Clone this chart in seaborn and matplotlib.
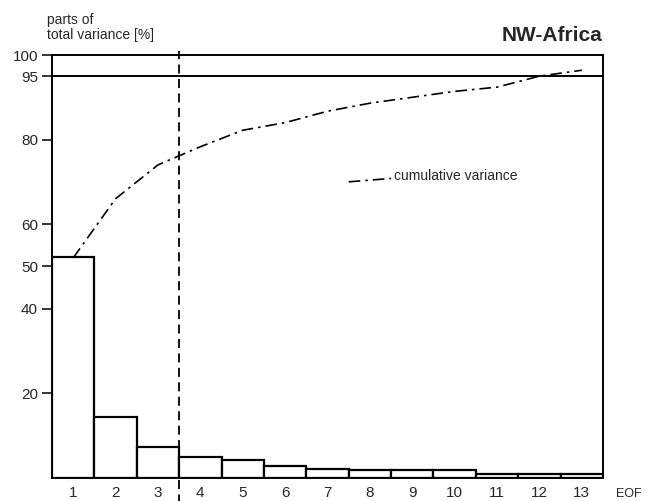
import matplotlib
matplotlib.use('Agg')
import matplotlib.pyplot as plt
import pandas as pd
import numpy as np
import seaborn as sns

# values
eof = [1, 2, 3, 4, 5, 6, 7, 8, 9, 10, 11, 12, 13]
variance = [52.2, 14.3, 7.2, 5.0, 4.1, 2.8, 2.0, 1.9, 1.9, 1.9, 0.8, 0.8, 0.8]
cumulative = [52.0, 66.0, 74.0, 78.3, 82.2, 84.0, 86.7, 88.6, 90.0, 91.4, 92.4, 95.0, 96.4]
yticks = [20, 40, 50, 60, 80, 95, 100]

sns.set_style('white')
plt.rcParams['font.family'] = ['Liberation Sans', 'DejaVu Sans']

df = pd.DataFrame({'eof': eof, 'variance': variance, 'cumulative': cumulative})

fig = plt.figure(figsize=(6.55, 5.01), dpi=100)
ax = fig.add_axes([0.0794, 0.0465, 0.8412, 0.8437])

sns.barplot(data=df, x='eof', y='variance', native_scale=True, width=1,
            color='white', edgecolor='black', linewidth=1.6, ax=ax)
sns.lineplot(data=df, x='eof', y='cumulative', color='black', lw=1.2,
             dashes=False, ax=ax)
ax.lines[-1].set_dashes([7, 3, 1.5, 3])

ax.axhline(95, color='black', lw=1.4)
ax.axvline(3.5, ymin=0, ymax=1.01, color='black', lw=1.3, ls=(0, (5, 3)), clip_on=False)
ax.plot([3.5, 3.5], [-0.5, -5.5], color='black', lw=1.3, ls=(0, (5, 3)), clip_on=False)

ax.set_xlim(0.5, 13.5)
ax.set_ylim(0, 100)
ax.set_yticks(yticks)
ax.set_yticklabels([str(v) for v in yticks], fontsize=11)
ax.set_xticks(eof)
ax.set_xticklabels([str(v) for v in eof], fontsize=11)
ax.tick_params(axis='y', direction='out', length=7, width=1.3, left=True, pad=3)
ax.tick_params(axis='x', length=0, pad=6)
for s in ax.spines.values():
    s.set_color('black')
    s.set_linewidth(1.4)
ax.set_xlabel('')
ax.set_ylabel('')

# legend-like label for the cumulative line
ax.plot([7.5, 8.5], [70.0, 70.8], color='black', lw=1.2, dashes=[7, 3, 1.5, 3])
ax.text(8.57, 71.4, 'cumulative variance', fontsize=10, va='center', ha='left')

fig.text(0.072, 0.975, 'parts of\ntotal variance [%]', fontsize=10, ha='left', va='top',
         linespacing=1.1)
fig.text(0.92, 0.93, 'NW-Africa', fontsize=15, fontweight='bold', ha='right', va='center')
fig.text(0.96, 0.014, 'EOF', fontsize=9, ha='center', va='center')

fig.savefig('out.png', dpi=100)
